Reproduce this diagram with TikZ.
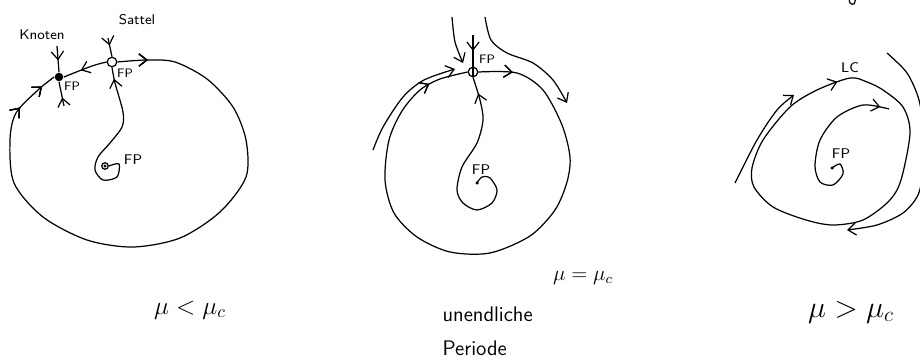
\documentclass[tikz,border=0pt]{standalone}
\usetikzlibrary{arrows.meta,decorations.markings}

\begin{document}
\begin{tikzpicture}[x=0.02cm, y=-0.02cm, line width=0.7pt,
    >={Straight Barb[length=4.5pt,width=7pt]},
    arrowat/.style={postaction={decorate},
      decoration={markings, mark=at position #1 with {\arrow{>}}}},
    fpopen/.style={circle, draw, fill=white, minimum size=0.19cm, inner sep=0pt},
    fpknot/.style={circle, fill=black, minimum size=0.17cm, inner sep=0pt},
    fpdot/.style={circle, fill=black, minimum size=0.07cm, inner sep=0pt},
    lbl/.style={font=\sffamily\scriptsize, inner sep=0pt},
    mulbl/.style={inner sep=0pt}]
  \clip (0,0) rectangle (920,361);

  % mu < mu_c : Knoten und Sattel auf dem Kreis
  \node[fpknot] (knot) at (59,77) {};
  \node[fpopen] (sattel1) at (112,62) {};
  \node[circle, draw, minimum size=0.13cm, inner sep=0pt] (focus1) at (105,166) {};
  \fill (focus1.center) circle (0.9pt);

  \draw[arrowat=0.05, arrowat=0.925, arrowat=0.975] plot[smooth] coordinates {(sattel1.east) (147,60) (175,62)
    (207,79) (233,107) (246,140) (246,177) (220,212) (180,238) (133,247) (87,240)
    (43,217) (14,183) (10,140) (16,113) (38,90) (knot.west)};
  \draw[arrowat=0.6] plot[smooth] coordinates {(sattel1.west) (92,66) (knot.east)};
  \draw[arrowat=0.55] (57,46) -- (knot.north);
  \draw[arrowat=0.35] (64,106) -- (knot.south);
  \draw[arrowat=0.4] (108,38) -- (sattel1.north);
  \draw[arrowat=0.93] plot[smooth] coordinates {(focus1.east) (119,164) (117,177) (103,180) (95,170)
    (98,157) (110,143) (122,127) (123,112) (115,83) (sattel1.south)};

  \node[lbl, font=\sffamily\footnotesize] (lblKnoten) at (42,35) {Knoten};
  \node[lbl, font=\sffamily\footnotesize] (lblSattel) at (137,20) {Sattel};
  \node[lbl] (lblFPk) at (72,86) {FP};
  \node[lbl] (lblFPs) at (125,73) {FP};
  \node[lbl, font=\sffamily\footnotesize] (lblFPf1) at (133,160) {FP};
  \node[mulbl, font=\Large] (lblMu1) at (190,310) {$\mu<\mu_c$};

  % mu = mu_c : homokliner Orbit
  \node[fpopen] (sattel2) at (473,72) {};
  \draw (sattel2.north) -- (sattel2.south);
  \node[fpdot] (focus2) at (477,183) {};

  \draw[arrowat=0.06, arrowat=0.93] plot[smooth] coordinates {(sattel2.east) (517,73) (543,90)
    (562,125) (570,157) (567,182) (555,210) (530,236) (490,253) (450,252) (417,237)
    (394,213) (385,180) (389,140) (402,111) (420,90) (440,79) (sattel2.west)};
  \draw[->] plot[smooth] coordinates {(373,150) (383,127) (403,97) (424,80) (455,69)};
  \draw[->] plot[smooth] coordinates {(452,17) (455,42) (463,63)};
  \draw[->] plot[smooth] coordinates {(485,17) (491,40) (507,53) (533,63) (553,80) (567,103)};
  \draw[arrowat=0.5] (473,35) -- (sattel2.north);
  \draw[arrowat=0.92] plot[smooth] coordinates {(focus2) (482,177) (490,178) (497,190) (492,203)
    (477,210) (463,203) (457,190) (462,167) (477,143) (483,120) (480,100) (sattel2.south)};

  \node[lbl] (lblFPs2) at (487,59) {FP};
  \node[lbl, font=\sffamily\footnotesize] (lblFPf2) at (481,170) {FP};
  \node[mulbl, font=\large] (lblMu2) at (583,278) {$\mu=\mu_c$};
  \node[lbl, font=\sffamily\large, anchor=west] (lblUnendl) at (442,314) {unendliche};
  \node[lbl, font=\sffamily\large, anchor=west] (lblPeriode) at (442,348) {Periode};

  % mu > mu_c : Grenzzyklus
  \node[fpdot] (focus3) at (832,168) {};
  \draw[arrowat=0.935] plot[smooth cycle] coordinates {(850,78) (867,82) (883,90) (903,107)
    (910,133) (901,180) (889,201) (863,220) (833,225) (806,220) (773,207) (754,187)
    (752,168) (763,140) (790,107) (817,90)};
  \draw[arrowat=0.95] plot[smooth] coordinates {(focus3) (840,164) (843,174) (833,185) (820,182)
    (815,166) (820,140) (837,117) (863,105) (889,109)};
  \draw[->] plot[smooth] coordinates {(735,183) (757,140) (777,110) (794,95)};
  \draw[->] plot[smooth] coordinates {(887,53) (907,73) (919,100) (924,135) (923,170)
    (918,195) (903,213) (877,225) (847,230)};
  \draw plot[smooth] coordinates {(849,-3) (850,3) (854,4) (856,-3)};

  \node[lbl, font=\sffamily\footnotesize] (lblLC) at (850,68) {LC};
  \node[lbl, font=\sffamily\footnotesize] (lblFPf3) at (841,154) {FP};
  \node[mulbl, font=\LARGE] (lblMu3) at (851,312) {$\mu>\mu_c$};
\end{tikzpicture}
\end{document}
